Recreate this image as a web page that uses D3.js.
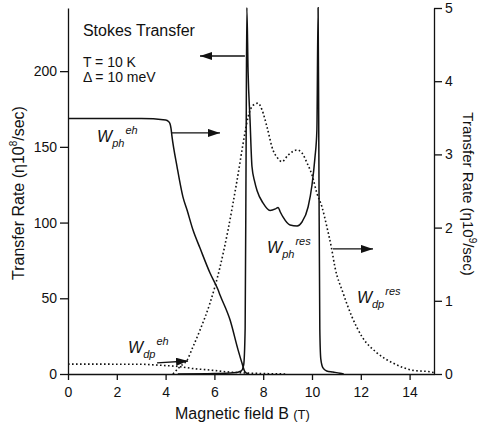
<!DOCTYPE html>
<html>
<head>
<meta charset="utf-8">
<script src="https://cdn.jsdelivr.net/npm/d3@7"></script>
<style>
  body { margin: 0; background: #fff; }
  svg { font-family: "Liberation Sans", Arial, sans-serif; }
</style>
</head>
<body>
<div id="chart"></div>
<script>
// Stokes transfer rates vs magnetic field (T = 10 K, delta = 10 meV)

// W_ph^eh, solid, read on the right axis (10^9/sec)
var phEhB   = [0, 3.0, 4.0, 4.12, 4.18, 4.22, 4.26, 4.47, 4.71, 4.88, 5.12, 5.41, 5.82, 6.15, 6.23, 6.64, 6.97, 7.13, 7.25, 7.4];
var phEhVal = [3.49, 3.49, 3.47, 3.45, 3.42, 3.36, 3.25, 2.83, 2.42, 2.24, 1.97, 1.72, 1.38, 1.15, 1.08, 0.74, 0.33, 0.15, 0.03, 0];

// W_ph^res, solid, read on the left axis (10^8/sec)
var phResB   = [4.5, 6.0, 6.8, 7.1, 7.2, 7.26, 7.3, 7.33, 7.38, 7.46, 7.54, 7.65, 7.75, 7.99, 8.28, 8.5, 8.61, 8.7, 8.81, 9.1, 9.39, 9.59, 9.84, 10.0, 10.12, 10.2, 10.25, 10.28, 10.32, 10.36, 10.45, 10.6, 10.86, 11.15, 11.3];
var phResVal = [0, 0.3, 0.8, 2, 6, 30, 150, 242, 200, 168, 137, 127, 121, 113, 108, 109, 110, 107, 103.7, 98.4, 97.8, 100.4, 110.3, 124.8, 142.7, 161, 242, 150, 30, 10, 4, 2, 1.3, 0.5, 0];

// W_dp^eh, dotted, right axis
var dpEhB   = [0, 3.0, 3.5, 4.0, 4.6, 5.1, 5.8, 6.5, 7.2, 8.0, 9.0];
var dpEhVal = [0.135, 0.133, 0.125, 0.115, 0.1, 0.075, 0.055, 0.03, 0.015, 0.006, 0];

// W_dp^res, dotted, right axis
var dpResB   = [4.3, 4.59, 4.88, 5.12, 5.41, 5.82, 6.23, 6.56, 6.93, 7.25, 7.38, 7.58, 7.79, 7.95, 8.16, 8.4, 8.57, 8.77, 9.02, 9.39, 9.59, 9.8, 10.0, 10.2, 10.41, 10.61, 10.8, 10.94, 11.27, 11.64, 12.05, 12.66, 13.32, 14.14, 14.84, 15];
var dpResVal = [0, 0.10, 0.19, 0.37, 0.60, 0.97, 1.46, 1.97, 2.65, 3.29, 3.51, 3.67, 3.70, 3.61, 3.37, 3.06, 2.96, 2.90, 2.99, 3.06, 3.02, 2.88, 2.72, 2.47, 2.28, 2.01, 1.72, 1.46, 1.11, 0.78, 0.51, 0.29, 0.15, 0.05, 0.03, 0.02];

// ticks
var xTicks = [0, 2, 4, 6, 8, 10, 12, 14];
var leftTicks = [0, 50, 100, 150, 200];
var rightTicks = [0, 1, 2, 3, 4, 5];

var width = 479, height = 430;
var margin = {top: 8, left: 68, right: 45, bottom: 56};

var svg = d3.select('#chart').append('svg')
  .attr('width', width)
  .attr('height', height);

var x = d3.scaleLinear().domain([0, 15]).range([margin.left, width - margin.right]);
var yL = d3.scaleLinear().domain([0, 241.7]).range([height - margin.bottom, margin.top]);
var yR = d3.scaleLinear().domain([0, 5]).range([height - margin.bottom, margin.top]);

function zip(bs, vs) { return bs.map(function(b, i){ return [b, vs[i]]; }); }

svg.append('clipPath').attr('id', 'plot')
  .append('rect')
    .attr('x', x(0)).attr('y', yL(241.7) - 1)
    .attr('width', x(15) - x(0)).attr('height', yL(0) - yL(241.7) + 1);

var lineL = d3.line().x(function(d){ return x(d[0]); }).y(function(d){ return yL(d[1]); }).curve(d3.curveMonotoneX);
var lineR = d3.line().x(function(d){ return x(d[0]); }).y(function(d){ return yR(d[1]); }).curve(d3.curveMonotoneX);

var curves = svg.append('g').attr('clip-path', 'url(#plot)');

curves.append('path').datum(zip(dpEhB, dpEhVal))
  .attr('d', lineR).attr('fill', 'none').attr('stroke', '#111')
  .attr('stroke-width', 1.6).attr('stroke-dasharray', '1.6,2.4');
curves.append('path').datum(zip(dpResB, dpResVal))
  .attr('d', lineR).attr('fill', 'none').attr('stroke', '#111')
  .attr('stroke-width', 1.6).attr('stroke-dasharray', '1.6,2.4');
curves.append('path').datum(zip(phEhB, phEhVal))
  .attr('d', lineR).attr('fill', 'none').attr('stroke', '#111')
  .attr('stroke-width', 1.5);
curves.append('path').datum(zip(phResB, phResVal))
  .attr('d', lineL).attr('fill', 'none').attr('stroke', '#111')
  .attr('stroke-width', 1.5);

// axes
function styleAxis(g) {
  g.selectAll('path.domain').attr('stroke', '#111').attr('stroke-width', 1.3);
  g.selectAll('.tick line').attr('stroke', '#111').attr('stroke-width', 1.3);
  g.selectAll('.tick text').attr('fill', '#111').style('font-size', '14px');
}

svg.append('g')
  .attr('transform', 'translate(0,' + yL(0) + ')')
  .call(d3.axisBottom(x).tickValues(xTicks).tickSize(6).tickPadding(7).tickSizeOuter(0))
  .attr('font-family', null).attr('font-size', null)
  .call(styleAxis);

svg.append('g')
  .attr('transform', 'translate(' + x(0) + ',0)')
  .call(d3.axisLeft(yL).tickValues(leftTicks).tickSize(8).tickPadding(3).tickSizeOuter(0))
  .attr('font-family', null).attr('font-size', null)
  .call(styleAxis);

svg.append('g')
  .attr('transform', 'translate(' + x(15) + ',0)')
  .call(d3.axisRight(yR).tickValues(rightTicks).tickFormat(d3.format('d')).tickSize(8).tickPadding(3).tickSizeOuter(0))
  .attr('font-family', null).attr('font-size', null)
  .call(styleAxis);

// axis titles
var xt = svg.append('text')
  .attr('x', 175).attr('y', 419)
  .style('font-size', '16px').attr('fill', '#111');
xt.append('tspan').text('Magnetic field B ');
xt.append('tspan').style('font-size', '13px').text('(T)');

var lt = svg.append('text')
  .attr('transform', 'translate(24,193) rotate(-90)')
  .attr('text-anchor', 'middle')
  .style('font-size', '16px').attr('fill', '#111');
lt.append('tspan').text('Transfer Rate (η10');
lt.append('tspan').style('font-size', '10px').attr('dy', -7).text('8');
lt.append('tspan').attr('dy', 7).text('/sec)');

var rt = svg.append('text')
  .attr('transform', 'translate(463,194) rotate(90)')
  .attr('text-anchor', 'middle')
  .style('font-size', '15px').attr('fill', '#111');
rt.append('tspan').text('Transfer Rate (η10');
rt.append('tspan').style('font-size', '10px').attr('dy', -6).text('9');
rt.append('tspan').attr('dy', 6).text('/sec)');

// annotations (data coordinates, left-axis units)
svg.append('text').attr('x', x(0.61)).attr('y', yL(223.3))
  .style('font-size', '16px').attr('fill', '#111').text('Stokes Transfer');
svg.append('text').attr('x', x(0.61)).attr('y', yL(202.8))
  .style('font-size', '14px').attr('fill', '#111').text('T = 10 K');
svg.append('text').attr('x', x(0.61)).attr('y', yL(192.9))
  .style('font-size', '14px').attr('fill', '#111').text('Δ = 10 meV');

var labels = [
  {b: 1.19, v: 153.2, sub: 'ph', sup: 'eh'},
  {b: 8.16, v: 79.9, sub: 'ph', sup: 'res'},
  {b: 11.84, v: 46.9, sub: 'dp', sup: 'res'},
  {b: 2.46, v: 13.9, sub: 'dp', sup: 'eh'}
];
labels.forEach(function(l){
  var t = svg.append('text').attr('x', x(l.b)).attr('y', yL(l.v))
    .attr('fill', '#111').style('font-style', 'italic').style('font-size', '16px');
  t.append('tspan').text('W');
  t.append('tspan').style('font-size', '11px').attr('dy', 5).text(l.sub);
  t.append('tspan').style('font-size', '11px').attr('dy', -13).attr('dx', 1).text(l.sup);
});

// arrows
var arrows = [
  {b0: 7.25, v0: 210, b1: 5.41, v1: 210},
  {b0: 4.26, v0: 159.2, b1: 6.23, v1: 159.2},
  {b0: 10.86, v0: 82.6, b1: 12.5, v1: 82.6},
  {b0: 3.65, v0: 7.3, b1: 4.92, v1: 8.6}
];
svg.append('defs').append('marker')
  .attr('id', 'head').attr('viewBox', '0 0 12 8')
  .attr('refX', 12).attr('refY', 4)
  .attr('markerWidth', 12).attr('markerHeight', 8)
  .attr('markerUnits', 'userSpaceOnUse')
  .attr('orient', 'auto')
  .append('path').attr('d', 'M0,0L12,4L0,8Z').attr('fill', '#111');
arrows.forEach(function(a){
  svg.append('line')
    .attr('x1', x(a.b0)).attr('y1', yL(a.v0))
    .attr('x2', x(a.b1)).attr('y2', yL(a.v1))
    .attr('stroke', '#111').attr('stroke-width', 1.3)
    .attr('marker-end', 'url(#head)');
});
</script>
</body>
</html>
